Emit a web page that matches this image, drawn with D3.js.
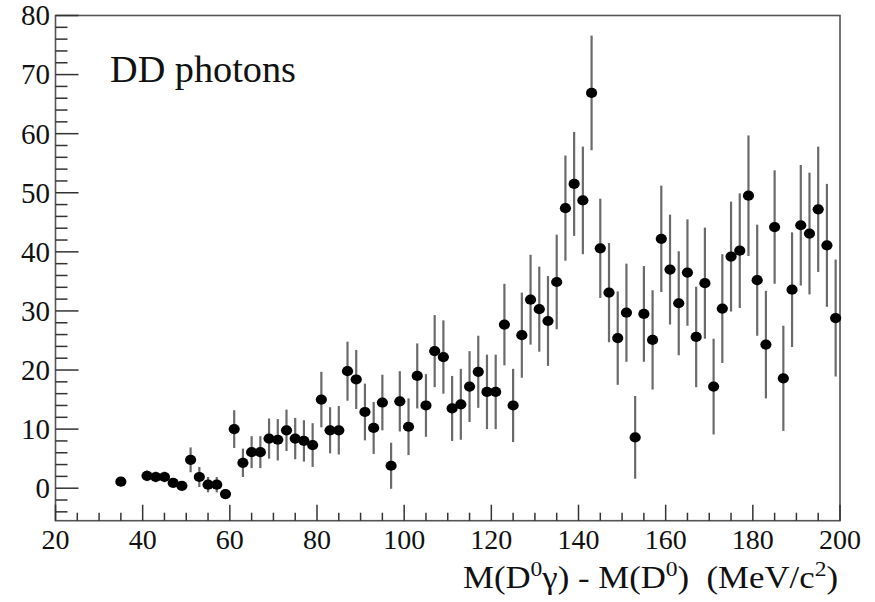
<!DOCTYPE html>
<html>
<head>
<meta charset="utf-8">
<script src="https://cdn.jsdelivr.net/npm/d3@7"></script>
<style>
  html, body { margin: 0; padding: 0; background: #fff; }
  svg { display: block; }
</style>
</head>
<body>
<svg id="chart" width="875" height="602"></svg>
<script>
// ---- data (bin centres in MeV/c^2, yields, errors) ----
const binCenters = [35, 41, 43, 45, 47, 49, 51, 53, 55, 57, 59, 61, 63, 65, 67, 69, 71, 73, 75, 77, 79,
  81, 83, 85, 87, 89, 91, 93, 95, 97, 99, 101, 103, 105, 107, 109, 111, 113, 115, 117, 119,
  121, 123, 125, 127, 129, 131, 133, 135, 137, 139, 141, 143, 145, 147, 149, 151, 153, 155, 157, 159,
  161, 163, 165, 167, 169, 171, 173, 175, 177, 179, 181, 183, 185, 187, 189, 191, 193, 195, 197, 199];
const yields = [1.1, 2.1, 1.9, 1.9, 0.9, 0.4, 4.8, 1.9, 0.6, 0.6, -1.0, 10.0, 4.3, 6.1, 6.1, 8.4, 8.2, 9.8, 8.4, 8.0, 7.3,
  15.0, 9.8, 9.8, 19.8, 18.4, 12.9, 10.2, 14.5, 3.8, 14.7, 10.4, 19.0, 14.0, 23.2, 22.2, 13.5, 14.2, 17.2, 19.7, 16.3,
  16.3, 27.7, 14.0, 25.9, 31.9, 30.3, 28.3, 34.9, 47.4, 51.5, 48.7, 66.9, 40.6, 33.1, 25.4, 29.7, 8.6, 29.5, 25.1, 42.2,
  37.0, 31.3, 36.5, 25.6, 34.7, 17.2, 30.4, 39.2, 40.2, 49.5, 35.2, 24.3, 44.2, 18.6, 33.6, 44.5, 43.1, 47.2, 41.1, 28.8];
const errors = [0.8, 0.9, 0.9, 0.9, 0.7, 0.7, 2.1, 1.7, 1.3, 1.3, 0.8, 3.2, 2.4, 2.7, 2.7, 3.4, 3.5, 3.5, 3.5, 3.5, 3.7,
  4.7, 3.9, 4.1, 5.0, 5.0, 4.8, 4.4, 4.7, 3.9, 5.1, 4.8, 5.5, 5.3, 6.1, 6.2, 5.5, 6.0, 6.0, 6.1, 6.3,
  6.3, 6.9, 6.2, 7.2, 7.6, 7.2, 7.6, 8.0, 8.9, 8.8, 9.1, 9.7, 8.4, 8.4, 7.9, 8.3, 7.0, 8.1, 8.4, 9.0,
  9.3, 8.8, 9.0, 8.5, 9.4, 8.1, 9.2, 9.3, 9.7, 10.2, 9.4, 9.1, 9.6, 8.9, 9.7, 10.2, 10.3, 10.6, 10.4, 9.9];
const xTickLabels = [20, 40, 60, 80, 100, 120, 140, 160, 180, 200];
const yTickLabels = [0, 10, 20, 30, 40, 50, 60, 70, 80];
const xDomain = [20, 200];
const yDomain = [-5.5, 80];
const titleText = "DD photons";

const FONT = '"Liberation Serif"';
const points = binCenters.map((c, i) => ({ x: c, y: yields[i], e: errors[i] }));

const svg = d3.select("#chart");
const L = 55.5, R = 840, T = 15.5, B = 520.7;

const x = d3.scaleLinear().domain(xDomain).range([L, R]);
const y = d3.scaleLinear().domain(yDomain).range([B, T]);

// frame
svg.append("rect")
  .attr("x", L).attr("y", T).attr("width", R - L).attr("height", B - T)
  .attr("fill", "none").attr("stroke", "#555").attr("stroke-width", 1.6);

// x ticks (inward)
const xMinor = d3.range(25, 200, 5).filter(v => v % 20 !== 0);
svg.append("g").selectAll("line").data(xMinor).join("line")
  .attr("x1", d => x(d)).attr("x2", d => x(d))
  .attr("y1", B).attr("y2", B - 8)
  .attr("stroke", "#333").attr("stroke-width", 1.5);
svg.append("g").selectAll("line").data(xTickLabels).join("line")
  .attr("x1", d => x(d)).attr("x2", d => x(d))
  .attr("y1", B).attr("y2", B - 16)
  .attr("stroke", "#333").attr("stroke-width", 1.5);
svg.append("g").selectAll("text").data(xTickLabels).join("text")
  .attr("x", d => x(d)).attr("y", 549)
  .attr("text-anchor", "middle").attr("font-size", 28).attr("fill", "#111")
  .style("font-family", FONT)
  .text(d => d);

// y ticks (inward)
const yMinor = d3.range(-4, 81, 2).filter(v => v % 10 !== 0);
svg.append("g").selectAll("line").data(yMinor).join("line")
  .attr("x1", L).attr("x2", L + 12)
  .attr("y1", d => y(d)).attr("y2", d => y(d))
  .attr("stroke", "#333").attr("stroke-width", 1.5);
svg.append("g").selectAll("line").data(yTickLabels).join("line")
  .attr("x1", L).attr("x2", L + 23)
  .attr("y1", d => y(d)).attr("y2", d => y(d))
  .attr("stroke", "#333").attr("stroke-width", 1.5);
svg.append("g").selectAll("text").data(yTickLabels).join("text")
  .attr("x", 50).attr("y", d => y(d))
  .attr("dy", "0.34em")
  .attr("text-anchor", "end").attr("font-size", 29).attr("fill", "#111")
  .style("font-family", FONT)
  .text(d => d);

// error bars
svg.append("g").selectAll("line").data(points).join("line")
  .attr("x1", d => x(d.x)).attr("x2", d => x(d.x))
  .attr("y1", d => y(d.y - d.e)).attr("y2", d => y(d.y + d.e))
  .attr("stroke", "#6a6a6a").attr("stroke-width", 2.2);

// markers
svg.append("g").selectAll("ellipse").data(points).join("ellipse")
  .attr("cx", d => x(d.x)).attr("cy", d => y(d.y))
  .attr("rx", 5.6).attr("ry", 5.1)
  .attr("fill", "#000");

// title in plot
svg.append("text")
  .attr("x", 110).attr("y", 82)
  .attr("font-size", 37).attr("fill", "#111")
  .style("font-family", FONT)
  .attr("textLength", 186).attr("lengthAdjust", "spacingAndGlyphs")
  .text(titleText);

// x-axis label
const xl = svg.append("text")
  .attr("x", 463).attr("y", 588)
  .attr("font-size", 31).attr("fill", "#111")
  .style("font-family", FONT)
  .attr("xml:space", "preserve")
  .attr("textLength", 375).attr("lengthAdjust", "spacingAndGlyphs");
xl.append("tspan").text("M(D");
xl.append("tspan").attr("dy", -12).attr("font-size", 21).text("0");
xl.append("tspan").attr("dy", 12).text("γ) - M(D");
xl.append("tspan").attr("dy", -12).attr("font-size", 21).text("0");
xl.append("tspan").attr("dy", 12).text(")  (MeV/c");
xl.append("tspan").attr("dy", -12).attr("font-size", 21).text("2");
xl.append("tspan").attr("dy", 12).text(")");
</script>
</body>
</html>
